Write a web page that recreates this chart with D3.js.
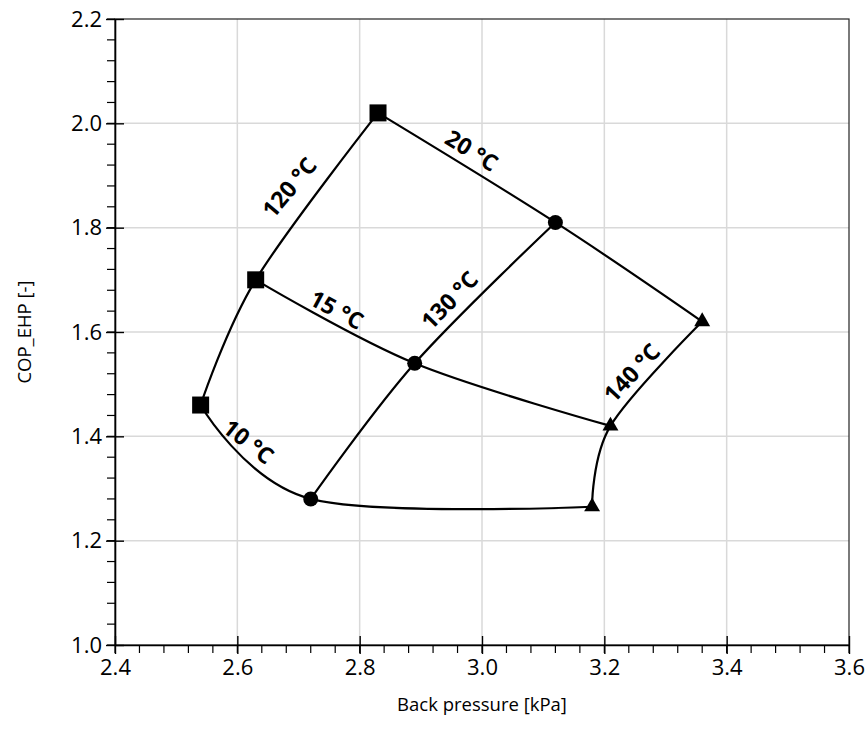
<!DOCTYPE html>
<html>
<head>
<meta charset="utf-8">
<script src="https://cdn.jsdelivr.net/npm/d3@7"></script>
<style>
  body { margin: 0; background: #fff; }
  text { font-family: "Open Sans", "Liberation Sans", sans-serif; }
</style>
</head>
<body>
<svg id="chart" width="868" height="740"></svg>
<script>
// marker points, one row per condensing temperature (120, 130, 140 °C)
var squares = [[2.54, 1.46], [2.63, 1.70], [2.83, 2.02]];
var circles = [[2.72, 1.28], [2.89, 1.54], [3.12, 1.81]];
var triangles = [[3.18, 1.265], [3.21, 1.42], [3.36, 1.62]];

// curves through the points
var lines = [
    [[2.54, 1.46], [2.63, 1.70], [2.83, 2.02]],    // 120 °C
    [[2.72, 1.28], [2.89, 1.54], [3.12, 1.81]],    // 130 °C
    [[3.18, 1.265], [3.21, 1.42], [3.36, 1.62]],   // 140 °C
    [[2.54, 1.46], [2.72, 1.28], [3.18, 1.265]],   // 10 °C
    [[2.63, 1.70], [2.89, 1.54], [3.21, 1.42]],    // 15 °C
    [[2.83, 2.02], [3.12, 1.81], [3.36, 1.62]]     // 20 °C
];

var labelText = ['120 °C', '20 °C', '15 °C', '130 °C', '10 °C', '140 °C'];
var labelAt = [[2.684, 1.878], [2.984, 1.949], [2.763, 1.644], [2.946, 1.662], [2.619, 1.391], [3.244, 1.523]];
var labelAngle = [-50, 32, 28, -46, 38, -47];

var xTicks = [2.4, 2.6, 2.8, 3.0, 3.2, 3.4, 3.6];
var yTicks = [1.0, 1.2, 1.4, 1.6, 1.8, 2.0, 2.2];

var plotL = 115, plotR = 849, plotT = 19, plotB = 645;
var svg = d3.select('#chart');

var x = d3.scaleLinear().domain([2.4, 3.6]).range([plotL, plotR]);
var y = d3.scaleLinear().domain([1.0, 2.2]).range([plotB, plotT]);

var minorX = d3.range(2.4, 3.6001, 0.04);
var minorY = d3.range(1.0, 2.2001, 0.04);

// gridlines
svg.append('g').selectAll('line').data(xTicks.slice(1, -1)).enter().append('line')
    .attr('x1', function(d) { return x(d); }).attr('x2', function(d) { return x(d); })
    .attr('y1', plotT).attr('y2', plotB)
    .attr('stroke', '#d9d9d9').attr('stroke-width', 1.5);
svg.append('g').selectAll('line').data(yTicks.slice(1, -1)).enter().append('line')
    .attr('x1', plotL).attr('x2', plotR)
    .attr('y1', function(d) { return y(d); }).attr('y2', function(d) { return y(d); })
    .attr('stroke', '#d9d9d9').attr('stroke-width', 1.5);

// frame
svg.append('rect')
    .attr('x', plotL).attr('y', plotT)
    .attr('width', plotR - plotL).attr('height', plotB - plotT)
    .attr('fill', 'none').attr('stroke', '#222').attr('stroke-width', 1.2);

// minor ticks
svg.append('g').selectAll('line').data(minorX).enter().append('line')
    .attr('x1', function(d) { return x(d); }).attr('x2', function(d) { return x(d); })
    .attr('y1', plotB).attr('y2', plotB + 8)
    .attr('stroke', '#000').attr('stroke-width', 1.2);
svg.append('g').selectAll('line').data(minorY).enter().append('line')
    .attr('x1', plotL - 8).attr('x2', plotL)
    .attr('y1', function(d) { return y(d); }).attr('y2', function(d) { return y(d); })
    .attr('stroke', '#000').attr('stroke-width', 1.2);

// axes
var xAxis = svg.append('g')
    .attr('transform', 'translate(0,' + plotB + ')')
    .call(d3.axisBottom(x).tickValues(xTicks).tickFormat(d3.format('.1f')).tickSize(9).tickSizeOuter(0));
var yAxis = svg.append('g')
    .attr('transform', 'translate(' + plotL + ',0)')
    .call(d3.axisLeft(y).tickValues(yTicks).tickFormat(d3.format('.1f')).tickSize(9).tickSizeOuter(0));

[xAxis, yAxis].forEach(function(a) {
    a.attr('font-size', 22).attr('font-family', '"Open Sans", "Liberation Sans", sans-serif');
    a.select('.domain').attr('stroke', '#000').attr('stroke-width', 1.6);
    a.selectAll('.tick line').attr('stroke', '#000').attr('stroke-width', 1.4);
    a.selectAll('.tick text').attr('fill', '#000');
});
xAxis.selectAll('.tick line').attr('y1', -9);
xAxis.selectAll('.tick text').attr('y', 14);
yAxis.selectAll('.tick line').attr('x1', 9);
yAxis.selectAll('.tick text').attr('x', -13);

// axis titles
svg.append('text')
    .attr('x', (plotL + plotR) / 2).attr('y', 711)
    .attr('text-anchor', 'middle')
    .attr('font-size', 18.5)
    .text('Back pressure [kPa]');
svg.append('text')
    .attr('transform', 'translate(31,' + (plotT + plotB) / 2 + ') rotate(-90)')
    .attr('text-anchor', 'middle')
    .attr('font-size', 18.5)
    .text('COP_EHP [-]');

// smooth curves
var line = d3.line()
    .x(function(d) { return x(d[0]); })
    .y(function(d) { return y(d[1]); })
    .curve(d3.curveCardinal.tension(0));

svg.append('g').selectAll('path').data(lines).enter().append('path')
    .attr('d', line)
    .attr('fill', 'none')
    .attr('stroke', '#000')
    .attr('stroke-width', 2.2);

// markers
svg.append('g').selectAll('rect').data(squares).enter().append('rect')
    .attr('x', function(d) { return x(d[0]) - 8.5; })
    .attr('y', function(d) { return y(d[1]) - 8.5; })
    .attr('width', 17).attr('height', 17)
    .attr('fill', '#000');
svg.append('g').selectAll('circle').data(circles).enter().append('circle')
    .attr('cx', function(d) { return x(d[0]); })
    .attr('cy', function(d) { return y(d[1]); })
    .attr('r', 7.5)
    .attr('fill', '#000');
var tri = d3.symbol().type(d3.symbolTriangle).size(110);
svg.append('g').selectAll('path').data(triangles).enter().append('path')
    .attr('transform', function(d) { return 'translate(' + x(d[0]) + ',' + y(d[1]) + ')'; })
    .attr('d', tri)
    .attr('fill', '#000');

// line labels
svg.append('g').selectAll('text').data(labelText).enter().append('text')
    .attr('transform', function(d, i) {
        return 'translate(' + x(labelAt[i][0]) + ',' + y(labelAt[i][1]) + ') rotate(' + labelAngle[i] + ')';
    })
    .attr('text-anchor', 'middle')
    .attr('dominant-baseline', 'central')
    .attr('font-size', 23)
    .attr('font-weight', 'bold')
    .text(function(d) { return d; });
</script>
</body>
</html>
